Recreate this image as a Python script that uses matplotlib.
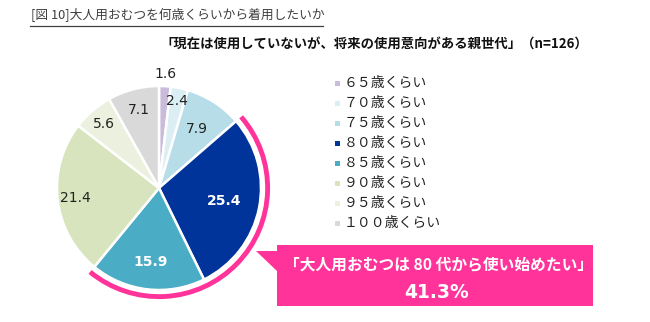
import numpy as np
import matplotlib.pyplot as plt
from matplotlib.patches import Arc, Polygon, Rectangle

plt.rcParams['font.family'] = ['Noto Sans CJK JP', 'DejaVu Sans']

# data
categories = ['６５歳くらい', '７０歳くらい', '７５歳くらい', '８０歳くらい',
              '８５歳くらい', '９０歳くらい', '９５歳くらい', '１００歳くらい']
values = [1.6, 2.4, 7.9, 25.4, 15.9, 21.4, 5.6, 7.1]
colors = ['#c9bcdb', '#dbeef4', '#b7dde8', '#00349a',
          '#4bacc6', '#d7e4bd', '#ebf1de', '#d9d9d9']
title = '[図 10]大人用おむつを何歳くらいから着用したいか'
subtitle = '「現在は使用していないが、将来の使用意向がある親世代」（n=126）'
callout = '「大人用おむつは 80 代から使い始めたい」'
callout_value = '41.3%'

W, H = 650, 322
fig = plt.figure(figsize=(W / 100, H / 100), dpi=100)
ax = fig.add_axes([0, 0, 1, 1])

cx, cy, R = 159, H - 188, 102
wedges, _ = ax.pie(values, colors=colors, startangle=90, counterclock=False,
                   center=(cx, cy), radius=R, frame=True,
                   wedgeprops=dict(edgecolor='white', linewidth=1.8))
ax.set_xlim(0, W)
ax.set_ylim(0, H)
ax.set_aspect('equal')
ax.axis('off')

# value labels
label_r = [1.12, 0.87, 0.69, 0.65, 0.73, 0.83, 0.83, 0.79]
for w, v, lr in zip(wedges, values, label_r):
    ang = np.deg2rad((w.theta1 + w.theta2) / 2)
    x = cx + lr * R * np.cos(ang)
    y = cy + lr * R * np.sin(ang)
    dark = w.get_facecolor()[0] < 0.5 and w.get_facecolor()[2] > 0.5
    ax.text(x, y, f'{v:.1f}', ha='center', va='center', fontsize=10,
            family='DejaVu Sans', color='white' if dark else '#222222',
            fontweight='bold' if dark else 'normal')

# pink arc around 80 and 85
pink = '#ff3399'
ax.add_patch(Arc((cx, cy), 2 * R * 1.065, 2 * R * 1.065,
                 theta1=wedges[4].theta1, theta2=wedges[3].theta2,
                 color=pink, linewidth=3.5))

# callout box
bx0, bx1, by0, by1 = 277, 593, H - 306, H - 245
ax.add_patch(Rectangle((bx0, by0), bx1 - bx0, by1 - by0, color=pink, lw=0))
ax.add_patch(Polygon([[256, H - 251], [bx0 + 1, H - 251], [bx0 + 1, H - 272]],
                     closed=True, color=pink, lw=0))
ax.text((bx0 + bx1) / 2 + 4, H - 264, callout, ha='center', va='center',
        fontsize=11.3, color='white', fontweight='bold')
ax.text((bx0 + bx1) / 2 + 2, H - 292, callout_value, ha='center', va='center',
        fontsize=13.5, color='white', fontweight='bold', family='DejaVu Sans')

# legend
ly0, ldy = H - 83, 20
for i, (c, lab) in enumerate(zip(colors, categories)):
    y = ly0 - i * ldy
    ax.add_patch(Rectangle((334.5, y - 2.5), 5, 5, color=c, lw=0))
    ax.text(344, y, lab, ha='left', va='center', fontsize=10, color='#222222')

# titles
ax.text(31, H - 15, title, ha='left', va='center', fontsize=9.2, color='#404040')
ax.plot([30, 323], [H - 26, H - 26], color='#404040', lw=0.9)
ax.text(588, H - 44, subtitle, ha='right', va='center', fontsize=9.6,
        fontweight='bold', color='#111111')

fig.savefig('out.png', dpi=100)
